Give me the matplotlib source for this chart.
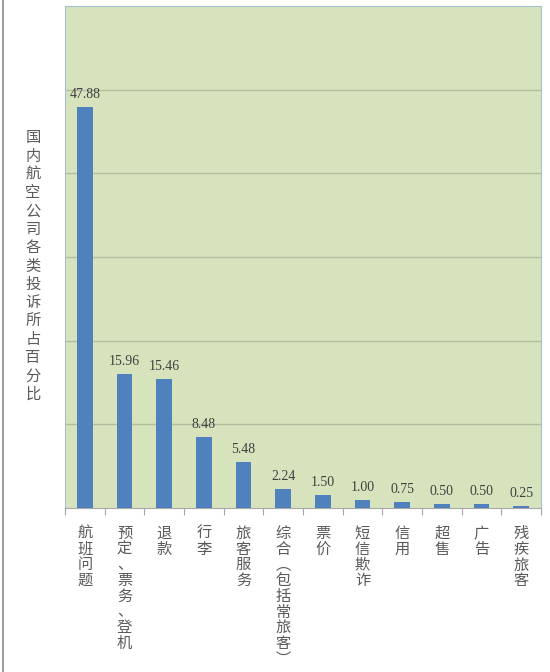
import matplotlib
matplotlib.use("Agg")
import matplotlib.pyplot as plt
from matplotlib.lines import Line2D

categories = ["航班问题", "预定、票务、登机", "退款", "行李", "旅客服务",
              "综合︵包括常旅客︶", "票价", "短信欺诈", "信用", "超售", "广告", "残疾旅客"]
values = [47.88, 15.96, 15.46, 8.48, 5.48, 2.24, 1.50, 1.00, 0.75, 0.50, 0.50, 0.25]
value_labels = ["47.88", "15.96", "15.46", "8.48", "5.48", "2.24",
                "1.50", "1.00", "0.75", "0.50", "0.50", "0.25"]
y_title = "国内航空公司各类投诉所占百分比"

CJK = ["Noto Sans CJK SC", "DejaVu Sans"]
TXT = "#5a5a5a"

fig = plt.figure(figsize=(5.5, 6.72), dpi=100)
ax = fig.add_axes([65 / 550, 1 - 508 / 672, 476 / 550, 502 / 672])
ax.set_facecolor("#d7e3bd")

x = list(range(len(categories)))
ax.bar(x, values, width=0.40, color="#4f81bd", zorder=3)
ax.set_xlim(-0.5, len(categories) - 0.5)
ax.set_ylim(0, 60)

ax.set_yticks([10, 20, 30, 40, 50])
ax.yaxis.grid(True, color="#b3bc9f", linewidth=1.0, zorder=1)
ax.tick_params(axis="y", length=0, labelleft=False)
ax.set_xticks([i - 0.5 for i in range(len(categories) + 1)])
ax.tick_params(axis="x", length=5, color="#a6a6a6", labelbottom=False)

for s in ("top", "right", "left"):
    ax.spines[s].set_color("#a9bfd4")
ax.spines["bottom"].set_color("#a6a6a6")

for xi, v, lab in zip(x, values, value_labels):
    ax.annotate(lab, (xi, v), xytext=(0, 6), textcoords="offset pixels",
                ha="center", va="bottom", fontsize=10,
                family="Liberation Serif", color="#404040")

# vertical category labels, one character per line
for xi, name in zip(x, categories):
    ax.annotate("\n".join(name), (xi, 0), xycoords=("data", "axes fraction"),
                xytext=(0, -17), textcoords="offset pixels",
                ha="center", va="top", fontsize=11, family=CJK,
                color=TXT, linespacing=0.9)

fig.text(33 / 550, 1 - 266 / 672, "\n".join(y_title), ha="center", va="center",
         fontsize=11, family=CJK, color=TXT, linespacing=1.1)

fig.add_artist(Line2D([2.5 / 550, 2.5 / 550], [0, 1], color="#8c8c8c", linewidth=1.2))

fig.savefig("out.png", dpi=100)
